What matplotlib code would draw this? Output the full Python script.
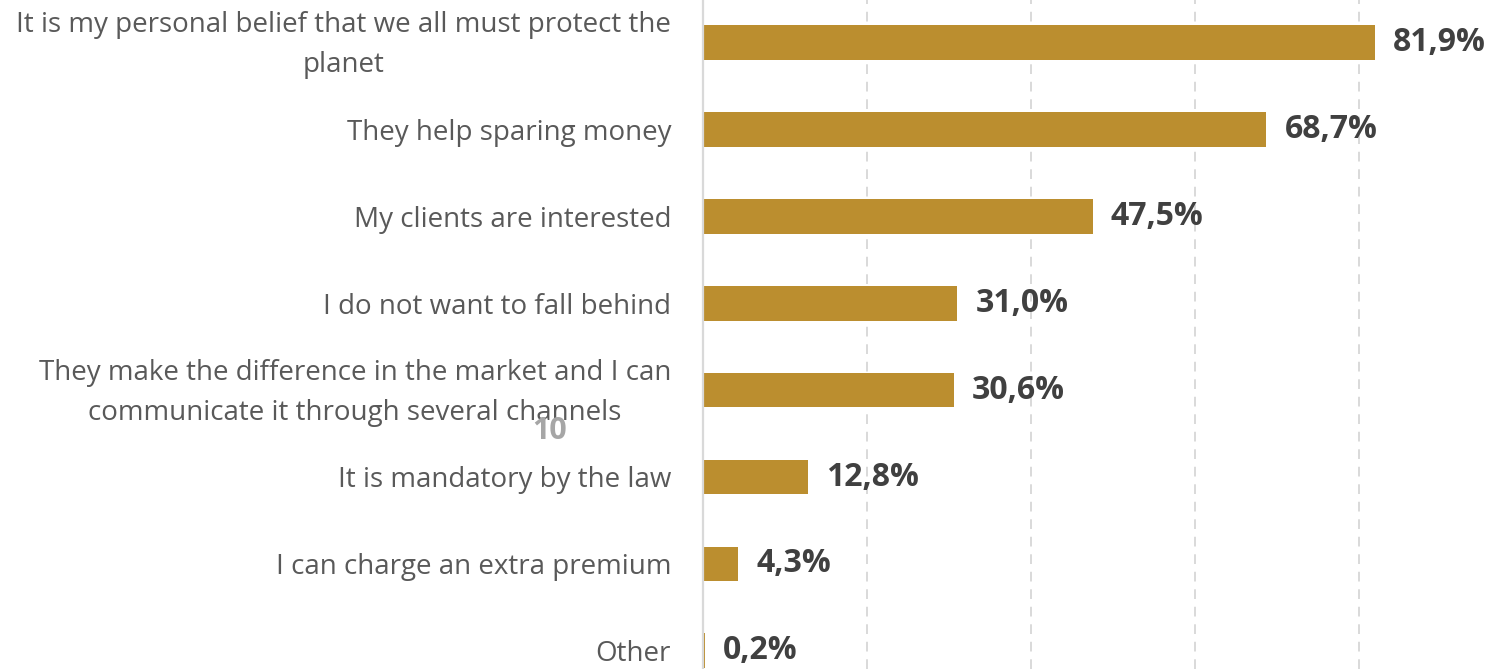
import matplotlib.pyplot as plt
import matplotlib.transforms as mtransforms
from matplotlib.ticker import MultipleLocator

# ─── Data ────────────────────────────────────────────────────────────────────
reasons = [
    "It is my personal belief that we all must protect the\nplanet",
    "They help sparing money",
    "My clients are interested",
    "I do not want to fall behind",
    "They make the difference in the market and I can\ncommunicate it through several channels",
    "It is mandatory by the law",
    "I can charge an extra premium",
    "Other",
]
shares = [81.9, 68.7, 47.5, 31.0, 30.6, 12.8, 4.3, 0.2]
value_labels = ["81,9%", "68,7%", "47,5%", "31,0%", "30,6%", "12,8%", "4,3%", "0,2%"]

BAR_COLOR = "#BB8E2F"
LABEL_COLOR = "#595959"
VALUE_COLOR = "#404040"
GRID_COLOR = "#D9D9D9"

W, H = 1489, 669
fig = plt.figure(figsize=(W / 100, H / 100), dpi=100)

# axes start at the zero line, run off the right edge
x0 = 703
ax = fig.add_axes([x0 / W, 0, 1 - x0 / W, 1])
px_per_pct = 8.2
ax.set_xlim(0, (W - x0) / px_per_pct)

spacing = 86.9
first = 42.5
ax.set_ylim((H - first) / spacing, -first / spacing)

ypos = list(range(len(reasons)))
ax.barh(ypos, shares, height=0.4, color=BAR_COLOR, zorder=2)

for y, v, txt in zip(ypos, shares, value_labels):
    ax.annotate(txt, xy=(v, y), xytext=(13, 0), textcoords="offset points",
                va="center", ha="left", fontsize=23, fontweight="bold",
                color=VALUE_COLOR, family="Open Sans")

ax.set_yticks(ypos)
ax.set_yticklabels(reasons, fontsize=20, color=LABEL_COLOR, family="Open Sans",
                   multialignment="center", linespacing=1.58)
ax.tick_params(axis="y", length=0, pad=23)
ax.tick_params(axis="x", length=0, labelbottom=False)

# two-line labels sit a touch high
lift = mtransforms.ScaledTranslation(0, 7 / 100, fig.dpi_scale_trans)
for lbl in ax.get_yticklabels():
    if "\n" in lbl.get_text():
        lbl.set_transform(lbl.get_transform() + lift)

ax.xaxis.set_major_locator(MultipleLocator(20))
ax.grid(axis="x", color=GRID_COLOR, linestyle=(0, (5, 4)), linewidth=1.4, zorder=0)

for side in ["top", "right", "bottom"]:
    ax.spines[side].set_visible(False)
ax.spines["left"].set_color(GRID_COLOR)
ax.spines["left"].set_linewidth(1.6)
ax.spines["left"].set_zorder(3)

# page number sitting over the labels
fig.text(550 / W, 1 - 431 / H, "10", ha="center", va="center", fontsize=22,
         fontweight="bold", color="#A6A6A6", family="Open Sans")

fig.savefig("out.png", dpi=100)
